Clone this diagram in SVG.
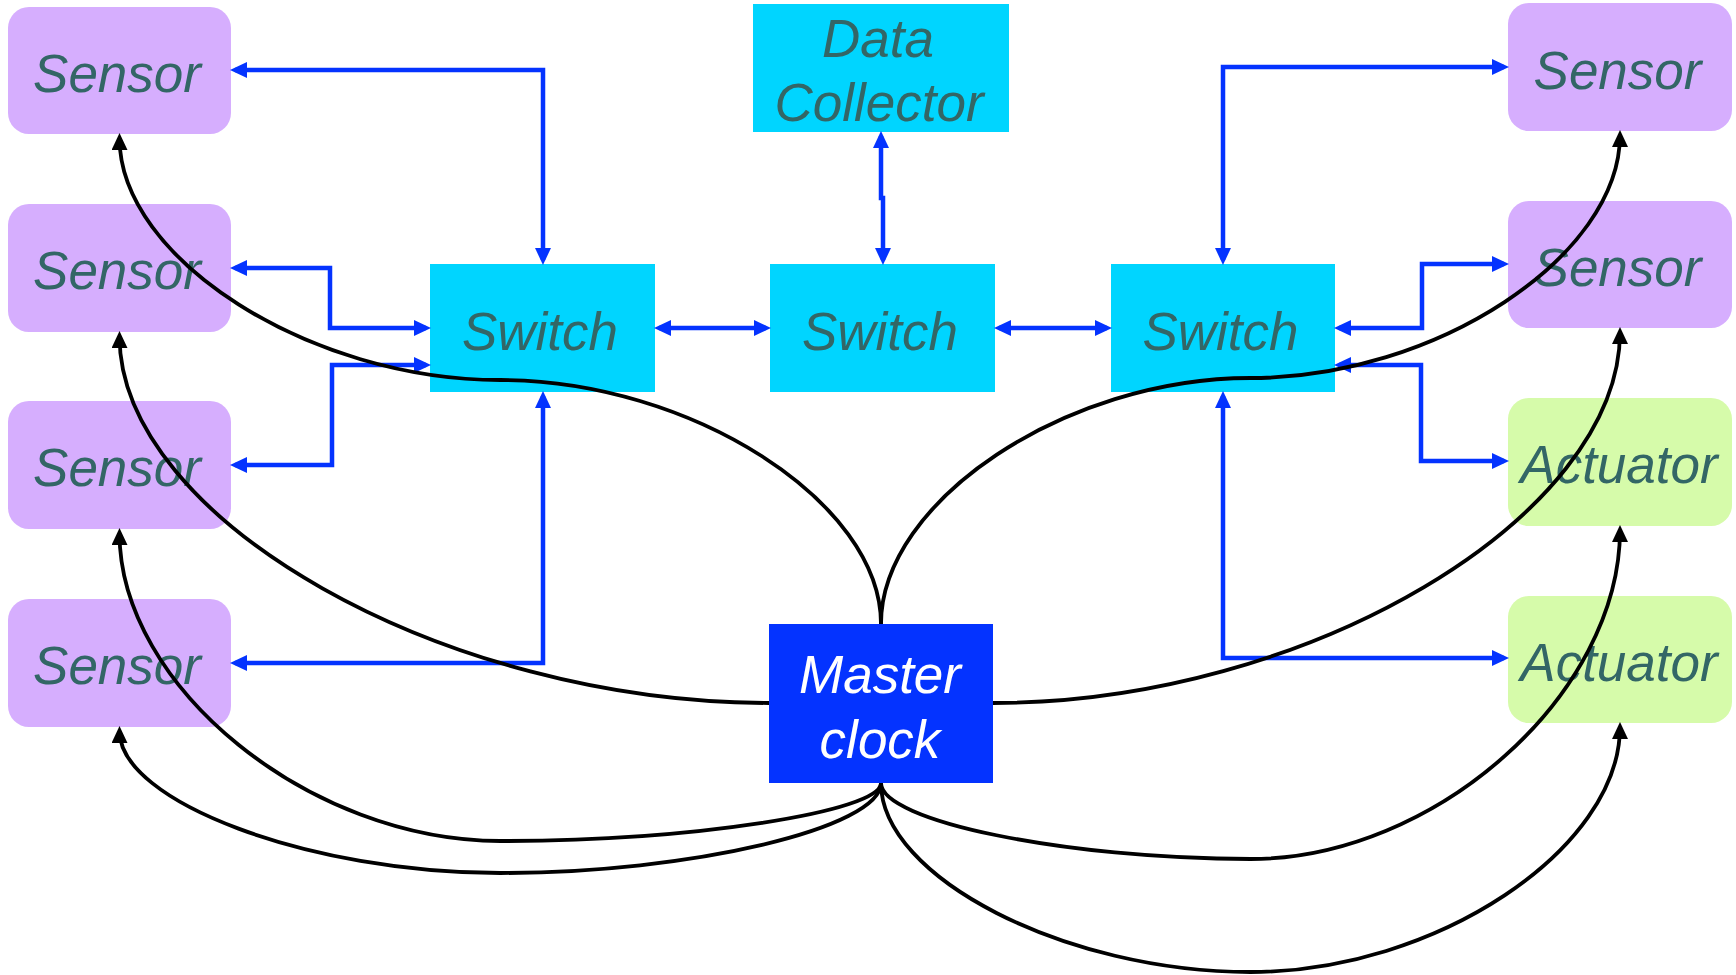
<svg xmlns="http://www.w3.org/2000/svg" width="1736" height="975" viewBox="0 0 1736 975">
  <style>
    .sensor { fill: #D6AEFE; }
    .actuator { fill: #D6FBAA; }
    .switch { fill: #00D5FF; }
    .clock { fill: #0433FF; }
    .lbl { font-family: "Liberation Sans", Arial, sans-serif; font-style: italic; font-size: 53px; fill: #336666; text-anchor: middle; }
    .lbl-w { fill: #FFFFFF; }
    .link { fill: none; stroke: #0433FF; stroke-width: 4.5; marker-start: url(#bluehead); marker-end: url(#bluehead); }
    .sync { fill: none; stroke: #000000; stroke-width: 3.8; marker-end: url(#blackhead); }
  </style>
  <defs>
    <marker id="bluehead" markerUnits="userSpaceOnUse" viewBox="0 0 17 16" markerWidth="17" markerHeight="16" refX="12" refY="8" orient="auto-start-reverse">
      <path d="M0,0 L17,8 L0,16 z" fill="#0433FF"/>
    </marker>
    <marker id="blackhead" markerUnits="userSpaceOnUse" viewBox="0 0 17 16" markerWidth="17" markerHeight="16" refX="12" refY="8" orient="auto">
      <path d="M0,0 L17,8 L0,16 z" fill="#000000"/>
    </marker>
  </defs>

  <rect width="1736" height="975" fill="#FFFFFF"/>

  <!-- left column sensors -->
  <g id="sensor-l1"><rect class="sensor" x="8" y="7" width="223" height="127" rx="21"/><text class="lbl" x="117" y="92">Sensor</text></g>
  <g id="sensor-l2"><rect class="sensor" x="8" y="204" width="223" height="128" rx="21"/><text class="lbl" x="117" y="289">Sensor</text></g>
  <g id="sensor-l3"><rect class="sensor" x="8" y="401" width="223" height="128" rx="21"/><text class="lbl" x="117" y="486">Sensor</text></g>
  <g id="sensor-l4"><rect class="sensor" x="8" y="599" width="223" height="128" rx="21"/><text class="lbl" x="117" y="684">Sensor</text></g>

  <!-- right column -->
  <g id="sensor-r1"><rect class="sensor" x="1508" y="3" width="224" height="128" rx="21"/><text class="lbl" x="1617.5" y="89">Sensor</text></g>
  <g id="sensor-r2"><rect class="sensor" x="1508" y="201" width="224" height="127" rx="21"/><text class="lbl" x="1617.5" y="286">Sensor</text></g>
  <g id="actuator-r3"><rect class="actuator" x="1508" y="398" width="224" height="128" rx="21"/><text class="lbl" x="1619" y="483">Actuator</text></g>
  <g id="actuator-r4"><rect class="actuator" x="1508" y="596" width="224" height="127" rx="21"/><text class="lbl" x="1619" y="681">Actuator</text></g>

  <!-- switches and collector -->
  <g id="switch-left"><rect class="switch" x="430" y="264" width="225" height="128"/><text class="lbl" x="540" y="350">Switch</text></g>
  <g id="switch-mid"><rect class="switch" x="770" y="264" width="225" height="128"/><text class="lbl" x="880" y="350">Switch</text></g>
  <g id="switch-right"><rect class="switch" x="1111" y="264" width="224" height="128"/><text class="lbl" x="1220.5" y="350">Switch</text></g>
  <g id="data-collector"><rect class="switch" x="753" y="4" width="256" height="128"/><text class="lbl" x="878" y="57">Data</text><text class="lbl" x="879" y="121">Collector</text></g>

  <!-- timing source -->
  <g id="master-clock"><rect class="clock" x="769" y="624" width="224" height="159"/><text class="lbl lbl-w" x="880" y="693">Master</text><text class="lbl lbl-w" x="880" y="758">clock</text></g>

  <g id="connectors">
    <!-- network links -->
    <path class="link" d="M235,70 H543 V260"/>
    <path class="link" d="M235,268 H330 V328 H426"/>
    <path class="link" d="M426,365 H332 V465 H235"/>
    <path class="link" d="M235,663 H543 V396"/>
    <path class="link" d="M659,328 H766"/>
    <path class="link" d="M999,328 H1107"/>
    <path class="link" d="M881,136 V198 H883 V260"/>
    <path class="link" d="M1223,260 V67 H1504"/>
    <path class="link" d="M1339,328 H1422 V264 H1504"/>
    <path class="link" d="M1339,365 H1421 V461 H1504"/>
    <path class="link" d="M1223,396 V658 H1504"/>

    <!-- clock distribution -->
    <path class="sync" d="M881,624 C881,502 690.6,380 500.3,380 C309.9,380 119.5,259 119.5,138"/>
    <path class="sync" d="M881,624 C881,501 1065.8,378 1250.5,378 C1435.3,378 1620,256.5 1620,135"/>
    <path class="sync" d="M769,703 C444,703 119.5,519.5 119.5,336"/>
    <path class="sync" d="M993,703 C1306.5,703 1620,517.5 1620,332"/>
    <path class="sync" d="M881,783 C881,812 690.6,841 500.3,841 C309.9,841 119.5,687 119.5,533"/>
    <path class="sync" d="M881,783 C881,828 690.6,873 500.3,873 C309.9,873 119.5,802 119.5,731"/>
    <path class="sync" d="M881,783 C881,821 1065.8,859 1250.5,859 C1435.3,859 1620,694.5 1620,530"/>
    <path class="sync" d="M881,783 C881,877.5 1065.8,972 1250.5,972 C1435.3,972 1620,849.5 1620,727"/>
  </g>
</svg>
